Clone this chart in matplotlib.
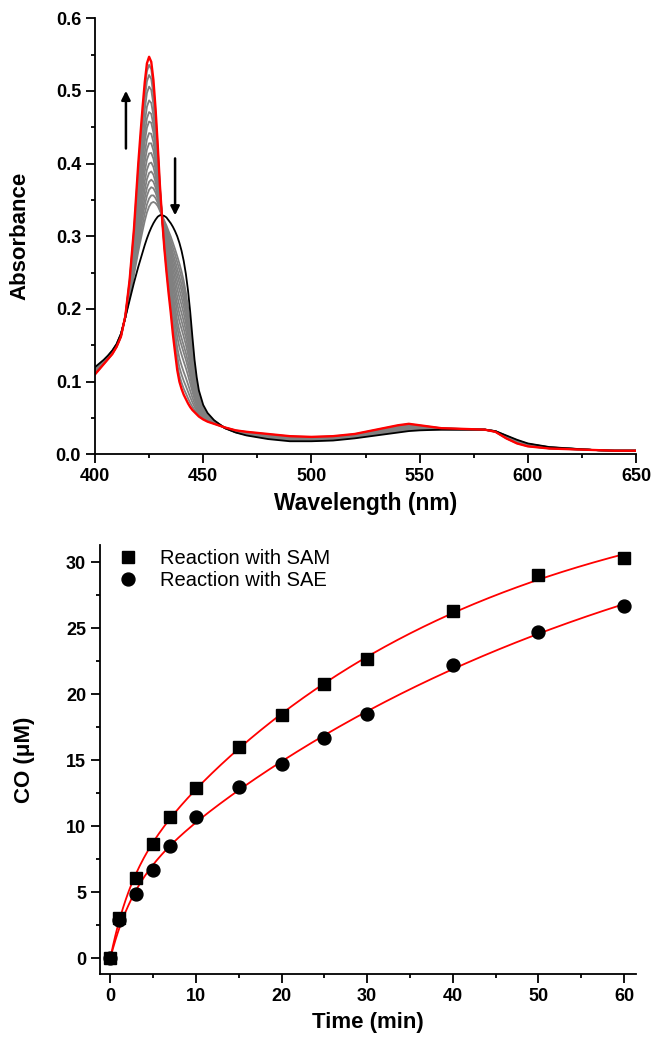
import numpy as np
import matplotlib
matplotlib.use('Agg')
import matplotlib.pyplot as plt
from matplotlib.ticker import MultipleLocator, FormatStrFormatter

plt.rcParams['font.family'] = ['Liberation Sans', 'DejaVu Sans']

# --- top panel: UV-vis spectra ---
wl = [400, 402, 404, 406, 408, 410, 412, 414, 416, 418,
      420, 421, 422, 423, 424, 425, 426, 427, 428, 429,
      430, 431, 432, 433, 434, 435, 436, 437, 438, 439,
      440, 441, 442, 443, 444, 445, 446, 447, 448, 450,
      452, 455, 460, 465, 470, 480, 490, 500, 510, 520,
      530, 540, 545, 550, 560, 570, 580, 585, 590, 595,
      600, 610, 620, 630, 640, 650]
abs_start = [0.120, 0.125, 0.130, 0.136, 0.143, 0.152, 0.166, 0.188, 0.212, 0.236,
             0.258, 0.268, 0.278, 0.288, 0.297, 0.305, 0.312, 0.318, 0.323, 0.327,
             0.329, 0.329, 0.328, 0.326, 0.322, 0.318, 0.313, 0.307, 0.300, 0.291,
             0.280, 0.266, 0.248, 0.225, 0.196, 0.162, 0.130, 0.106, 0.088, 0.068,
             0.057, 0.047, 0.036, 0.030, 0.026, 0.021, 0.018, 0.018, 0.019, 0.022,
             0.026, 0.030, 0.032, 0.033, 0.034, 0.034, 0.034, 0.032, 0.026, 0.020,
             0.015, 0.010, 0.008, 0.006, 0.005, 0.005]
abs_end = [0.110, 0.117, 0.124, 0.131, 0.138, 0.148, 0.162, 0.190, 0.240, 0.310,
           0.400, 0.440, 0.478, 0.512, 0.538, 0.547, 0.540, 0.515, 0.475, 0.425,
           0.370, 0.325, 0.285, 0.252, 0.222, 0.195, 0.165, 0.140, 0.116, 0.100,
           0.090, 0.082, 0.076, 0.070, 0.065, 0.061, 0.058, 0.055, 0.052, 0.048,
           0.045, 0.042, 0.037, 0.033, 0.031, 0.028, 0.025, 0.024, 0.025, 0.028,
           0.034, 0.040, 0.042, 0.040, 0.036, 0.035, 0.034, 0.031, 0.022, 0.015,
           0.011, 0.008, 0.007, 0.006, 0.005, 0.005]
# Soret peak heights of the intermediate (grey) spectra
gray_peaks = [0.536, 0.522, 0.506, 0.487, 0.471, 0.458, 0.442, 0.428,
              0.414, 0.400, 0.387, 0.375, 0.364, 0.352, 0.341]

# --- bottom panel: CO formation ---
time = [0, 1, 3, 5, 7, 10, 15, 20, 25, 30, 40, 50, 60]
co_sam = [0, 3.1, 6.1, 8.7, 10.7, 12.9, 16.0, 18.4, 20.8, 22.7, 26.3, 29.0, 30.3]
co_sae = [0, 2.9, 4.9, 6.7, 8.5, 10.7, 13.0, 14.7, 16.7, 18.5, 22.2, 24.7, 26.7]


def fit_two_exp(t, y):
    # y = a(1-exp(-k1 t)) + b(1-exp(-k2 t)), brute force over k1, k2
    t = np.asarray(t, float); y = np.asarray(y, float)
    ks = np.logspace(-2.5, 0.7, 70)
    best = None
    for i, k1 in enumerate(ks):
        for k2 in ks[i + 1:]:
            A = np.column_stack([1 - np.exp(-k1 * t), 1 - np.exp(-k2 * t)])
            c = np.linalg.lstsq(A, y, rcond=None)[0]
            err = np.sum((A @ c - y) ** 2)
            if best is None or err < best[0]:
                best = (err, k1, k2, c)
    _, k1, k2, c = best
    return lambda x: c[0] * (1 - np.exp(-k1 * x)) + c[1] * (1 - np.exp(-k2 * x))


fig = plt.figure(figsize=(6.68, 10.5), dpi=100)
ax1 = fig.add_axes([0.1422, 0.5673, 0.810, 0.4153])
ax2 = fig.add_axes([0.1497, 0.0721, 0.8024, 0.4088])

s = np.array(abs_start); e = np.array(abs_end)
i425 = wl.index(425)
for h in gray_peaks:
    f = (h - s[i425]) / (e[i425] - s[i425])
    ax1.plot(wl, s + f * (e - s), color='0.5', lw=1.3)
ax1.plot(wl, abs_start, color='black', lw=1.3)
ax1.plot(wl, abs_end, color='red', lw=1.7)

ax1.annotate('', xy=(414.3, 0.504), xytext=(414.3, 0.417),
             arrowprops=dict(arrowstyle='-|>', color='black', lw=1.8, mutation_scale=13))
ax1.annotate('', xy=(437, 0.325), xytext=(437, 0.411),
             arrowprops=dict(arrowstyle='-|>', color='black', lw=1.8, mutation_scale=13))

ax1.set_xlim(400, 650); ax1.set_ylim(0, 0.6)
ax1.xaxis.set_major_locator(MultipleLocator(50)); ax1.xaxis.set_minor_locator(MultipleLocator(25))
ax1.yaxis.set_major_locator(MultipleLocator(0.1)); ax1.yaxis.set_minor_locator(MultipleLocator(0.05))
ax1.yaxis.set_major_formatter(FormatStrFormatter('%.1f'))
ax1.set_xlabel('Wavelength (nm)', fontsize=16.5, fontweight='bold', labelpad=5)
ax1.set_ylabel('Absorbance', fontsize=16, fontweight='bold', labelpad=18)

tt = np.linspace(0, 60, 400)
ax2.plot(tt, fit_two_exp(time, co_sam)(tt), color='red', lw=1.3)
ax2.plot(tt, fit_two_exp(time, co_sae)(tt), color='red', lw=1.3)
ax2.plot(time, co_sam, 's', color='black', ms=9.3, label='Reaction with SAM')
ax2.plot(time, co_sae, 'o', color='black', ms=9.3, label='Reaction with SAE')
ax2.set_xlim(-1.2, 61.4); ax2.set_ylim(-1.2, 31.3)
ax2.xaxis.set_major_locator(MultipleLocator(10)); ax2.xaxis.set_minor_locator(MultipleLocator(5))
ax2.yaxis.set_major_locator(MultipleLocator(5)); ax2.yaxis.set_minor_locator(MultipleLocator(2.5))
ax2.set_xlabel('Time (min)', fontsize=16, fontweight='bold', labelpad=5)
ax2.set_ylabel('CO (μM)', fontsize=16, fontweight='bold', labelpad=22)
ax2.legend(loc='upper left', frameon=False, fontsize=14.5, handletextpad=0.75,
           borderaxespad=0.0, bbox_to_anchor=(0.008, 1.01), labelspacing=0.15,
           handlelength=1.6)

for ax in (ax1, ax2):
    ax.spines['top'].set_visible(False); ax.spines['right'].set_visible(False)
    for sp in ('left', 'bottom'):
        ax.spines[sp].set_linewidth(1.3)
    ax.tick_params(which='major', direction='out', length=6.5, width=1.3, labelsize=13)
    ax.tick_params(which='minor', direction='out', length=3, width=1.3)
    for lab in ax.get_xticklabels() + ax.get_yticklabels():
        lab.set_fontweight('bold')

fig.savefig('out.png', dpi=100)
